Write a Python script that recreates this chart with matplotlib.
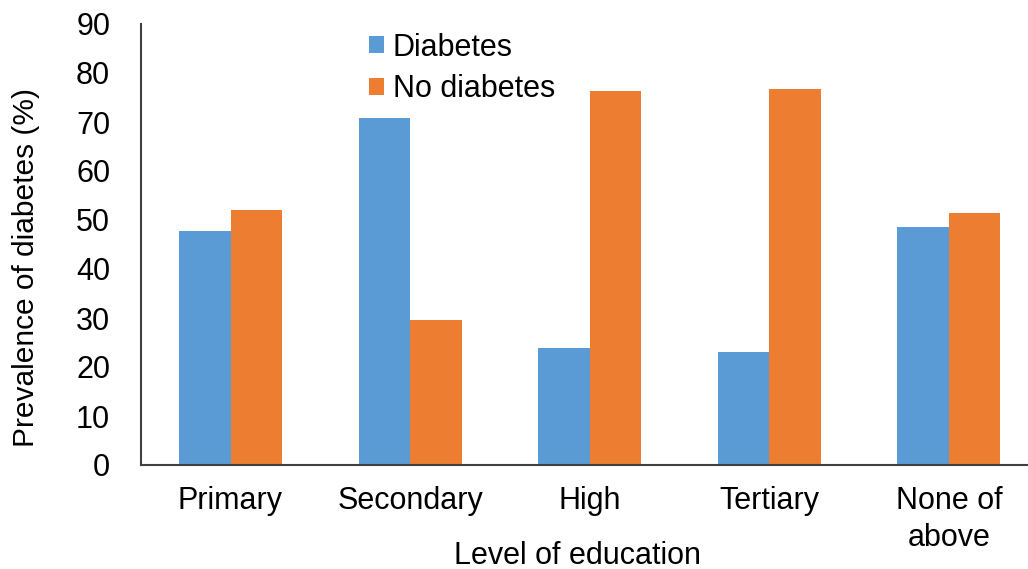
import numpy as np
import matplotlib
matplotlib.use("Agg")
import matplotlib.pyplot as plt

plt.rcParams['font.family'] = ['Liberation Sans', 'DejaVu Sans']

levels = ['Primary', 'Secondary', 'High', 'Tertiary', 'None of\nabove']
diabetes = [47.8, 70.8, 23.9, 23.1, 48.6]
no_diabetes = [52.0, 29.6, 76.4, 76.8, 51.4]

blue = '#5B9BD5'
orange = '#ED7D31'
fs = 22

W, H = 1028, 569
fig = plt.figure(figsize=(W / 100, H / 100), dpi=100)
ax = fig.add_axes([140.7 / W, 1 - 465 / H, 898 / W, 441 / H])

x = np.arange(len(levels))
w = 0.287
ax.bar(x - w / 2, diabetes, w, color=blue, label='Diabetes')
ax.bar(x + w / 2, no_diabetes, w, color=orange, label='No diabetes')

ax.set_xlim(-0.5, len(levels) - 0.5)
ax.set_ylim(0, 90)
ax.set_yticks(range(0, 91, 10))
ax.set_xticks(x)
ax.set_xticklabels(levels, linespacing=1.3)
ax.tick_params(axis='both', length=0, labelsize=fs, colors='#000000')
ax.tick_params(axis='x', pad=15)
ax.tick_params(axis='y', pad=22)

for side in ['top', 'right']:
    ax.spines[side].set_visible(False)
for side in ['left', 'bottom']:
    ax.spines[side].set_color('#404040')
    ax.spines[side].set_linewidth(1.5)

# axis titles placed in figure pixels
fig.text(26 / W, 1 - 267 / H, 'Prevalence of diabetes (%)', rotation=90,
         ha='center', va='center', fontsize=21.5)
fig.text(578 / W, 1 - 556 / H, 'Level of education', ha='center',
         va='center', fontsize=fs)

fig.legend(loc='upper left', bbox_to_anchor=(341 / W, 1 - 5 / H),
           bbox_transform=fig.transFigure, frameon=False, fontsize=fs,
           handlelength=0.5, handleheight=0.5, handletextpad=0.3,
           labelspacing=0.38)

fig.savefig('out.png', dpi=100)
